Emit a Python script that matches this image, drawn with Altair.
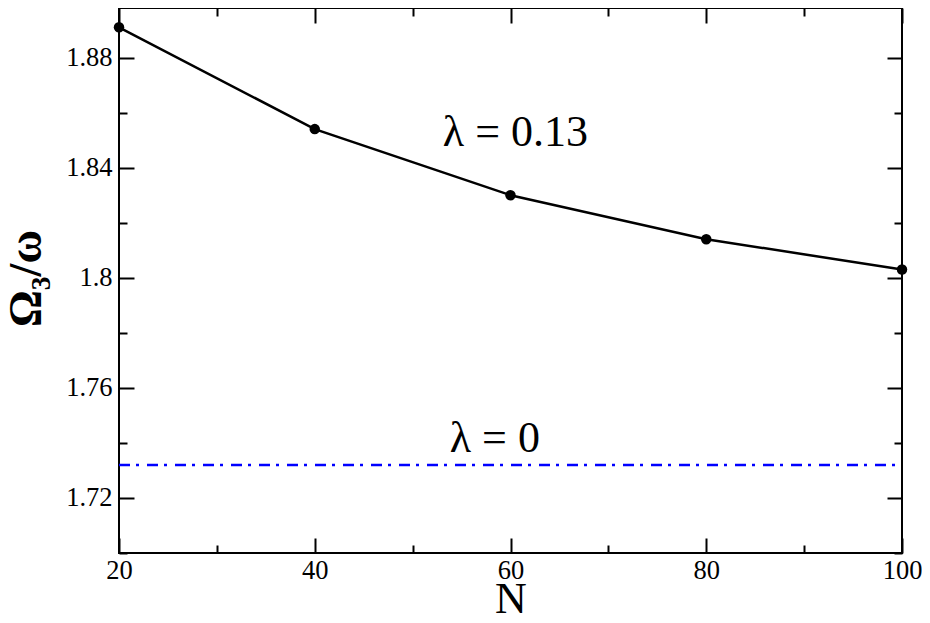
import altair as alt
import pandas as pd

# ---- data ----
N = [20, 40, 60, 80, 100]
omega3 = [1.891, 1.854, 1.830, 1.814, 1.803]
N_flat = [20, 100]
omega3_flat = [1.732, 1.732]
label_text = ["λ = 0.13", "λ = 0"]
label_N = [60.5, 58.4]
label_omega = [1.848, 1.7367]

x_major = [20, 40, 60, 80, 100]
x_minor = [30, 50, 70, 90]
y_major = [1.72, 1.76, 1.80, 1.84, 1.88]
y_minor = [1.70, 1.74, 1.78, 1.82, 1.86]
x_domain = [20, 100]
y_domain = [1.70, 1.898]

FONT = "Liberation Serif"

df_main = pd.DataFrame({"N": N, "omega": omega3})
df_flat = pd.DataFrame({"N": N_flat, "omega": omega3_flat})
df_lab = pd.DataFrame({"N": label_N, "omega": label_omega, "t": label_text})

xs = alt.Scale(domain=x_domain, nice=False, zero=False)
ys = alt.Scale(domain=y_domain, nice=False, zero=False)

MAJ = 15
MIN = 8


def ax(orient, values, size, labels, title="", **kw):
    return alt.Axis(
        orient=orient, values=values, tickSize=size, offset=-size,
        domain=False, grid=False, labels=labels, ticks=True,
        tickColor="black", tickWidth=2, title=title,
        labelFont=FONT, labelFontSize=26.5, labelColor="black",
        labelFlush=False, labelOverlap=False, labelBound=False,
        titleFont=FONT, titleColor="black", **kw)


x_bottom_major = ax("bottom", x_major, MAJ, True, title="N",
                    labelPadding=4, titleFontSize=44, titleFontWeight="normal",
                    titleBaseline="alphabetic", titleY=74)
y_left_major = ax("left", y_major, MAJ, True, title="Ω₃/ω",
                  format=".2~f", labelPadding=7, titleFontSize=46,
                  titleFontWeight="bold", titleBaseline="alphabetic",
                  titleAngle=-90, titleX=-94, titleY=270)
x_bottom_minor = ax("bottom", x_minor, MIN, False)
y_left_minor = ax("left", y_minor, MIN, False)
x_top_major = ax("top", x_major, MAJ, False)
y_right_major = ax("right", y_major, MAJ, False)
x_top_minor = ax("top", x_minor, MIN, False)
y_right_minor = ax("right", y_minor, MIN, False)

line = alt.Chart(df_main).mark_line(color="black", strokeWidth=2.5).encode(
    x=alt.X("N:Q", scale=xs, axis=x_bottom_major),
    y=alt.Y("omega:Q", scale=ys, axis=y_left_major),
)
points = alt.Chart(df_main).mark_circle(color="black", size=110, opacity=1).encode(
    x=alt.X("N:Q", scale=xs, axis=x_bottom_minor),
    y=alt.Y("omega:Q", scale=ys, axis=y_left_minor),
)
flat = alt.Chart(df_flat).mark_line(color="#0000ff", strokeWidth=2.5,
                                     strokeDash=[11, 6, 3, 8]).encode(
    x=alt.X("N:Q", scale=xs, axis=x_top_major),
    y=alt.Y("omega:Q", scale=ys, axis=y_right_major),
)
labels = alt.Chart(df_lab).mark_text(font=FONT, fontSize=44, color="black",
                                     align="center", baseline="alphabetic").encode(
    x=alt.X("N:Q", scale=xs, axis=x_top_minor),
    y=alt.Y("omega:Q", scale=ys, axis=y_right_minor),
    text="t:N",
)

chart = alt.layer(flat, line, points, labels).resolve_axis(
    x="independent", y="independent"
).properties(
    width=783, height=545,
    autosize=alt.AutoSizeParams(type="none"),
    padding={"left": 111, "top": 0, "right": 20, "bottom": 62},
    background="white",
).configure_view(stroke="black", strokeWidth=2)

chart.save("out.html", embed_options={"renderer": "svg", "actions": False})
